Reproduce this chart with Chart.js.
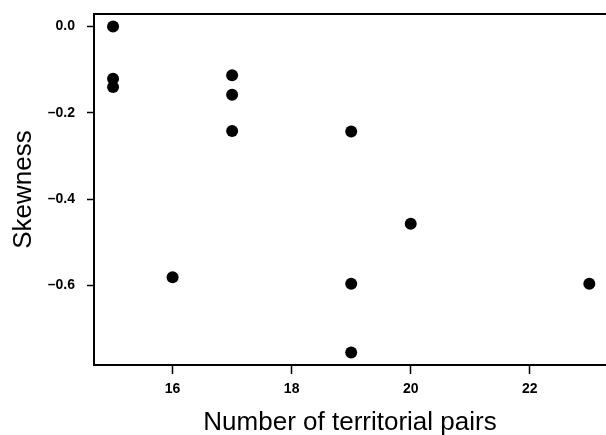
<!DOCTYPE html>
<html>
<head>
<meta charset="utf-8">
<script src="https://cdn.jsdelivr.net/npm/chart.js@4/dist/chart.umd.min.js"></script>
<style>
  html, body { margin: 0; padding: 0; background: #fff; }
  #wrap { width: 606px; height: 435px; }
</style>
</head>
<body>
<div id="wrap"><canvas id="chart" width="606" height="435"></canvas></div>
<script>
// territorial pairs vs skewness
const pairs    = [15, 15, 15, 16, 17, 17, 17, 19, 19, 19, 20, 23];
const skewness = [0.0, -0.121, -0.14, -0.581, -0.113, -0.158, -0.242, -0.243, -0.596, -0.755, -0.457, -0.596];
const xTicks = [16, 18, 20, 22];
const yTicks = [0.0, -0.2, -0.4, -0.6];

const points = pairs.map((p, i) => ({ x: p, y: skewness[i] }));
const tickFont = { family: 'Liberation Sans, Arial, sans-serif', size: 14, weight: 'bold' };
const titleFont = { family: 'Liberation Sans, Arial, sans-serif', size: 26 };

new Chart(document.getElementById('chart'), {
  type: 'scatter',
  data: {
    datasets: [{
      data: points,
      pointRadius: 6,
      pointHoverRadius: 6,
      backgroundColor: '#000',
      borderColor: '#000',
      borderWidth: 0
    }]
  },
  options: {
    responsive: false,
    animation: false,
    layout: { autoPadding: false, padding: { top: 14, left: 0, right: 0, bottom: 0 } },
    plugins: { legend: { display: false }, tooltip: { enabled: false } },
    scales: {
      x: {
        type: 'linear',
        min: 14.68,
        max: 23.28,
        afterBuildTicks: s => { s.ticks = xTicks.map(v => ({ value: v })); },
        afterFit: s => { s.height = 70; s.paddingLeft = 0; s.paddingRight = 0; },
        border: { display: true, color: '#000', width: 2 },
        grid: { drawOnChartArea: false, drawTicks: true, tickLength: 9, tickColor: '#000', tickWidth: 1.5 },
        ticks: { color: '#000', font: tickFont, padding: 7, maxRotation: 0 },
        title: { display: true, text: 'Number of territorial pairs', color: '#000', font: titleFont, padding: { top: 0, bottom: -3 } }
      },
      xTop: {
        type: 'linear',
        position: 'top',
        min: 14.68,
        max: 23.28,
        afterFit: s => { s.height = 0; },
        border: { display: true, color: '#000', width: 2 },
        grid: { display: false, drawTicks: false },
        ticks: { display: false }
      },
      y: {
        type: 'linear',
        min: -0.784,
        max: 0.029,
        afterBuildTicks: s => { s.ticks = yTicks.map(v => ({ value: v })); },
        afterFit: s => { s.width = 94; s.paddingTop = 0; s.paddingBottom = 0; },
        border: { display: true, color: '#000', width: 2 },
        grid: { drawOnChartArea: false, drawTicks: true, tickLength: 7, tickColor: '#000', tickWidth: 1.5 },
        ticks: {
          color: '#000', font: tickFont, padding: 12,
          callback: v => v.toFixed(1).replace('-', '\u2013')
        },
        title: { display: true, text: 'Skewness', color: '#000', font: titleFont, padding: { top: 8, bottom: 0 } }
      }
    }
  }
});
</script>
</body>
</html>
